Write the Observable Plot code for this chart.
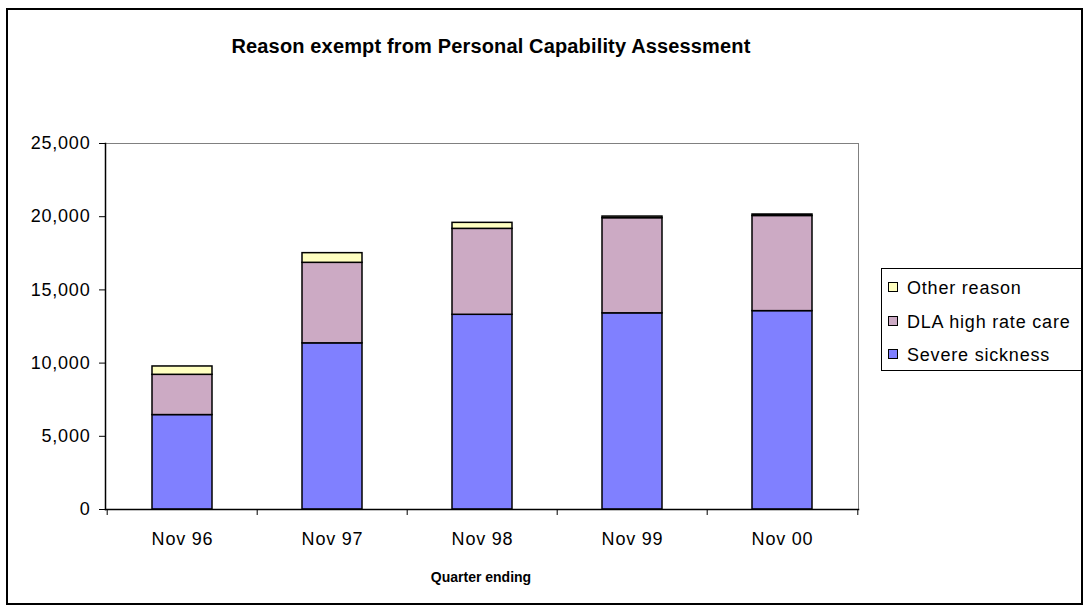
<!DOCTYPE html>
<html><head><meta charset="utf-8">
<script src="https://cdn.jsdelivr.net/npm/d3@7"></script>
<script src="https://cdn.jsdelivr.net/npm/@observablehq/plot@0.6"></script>
<style>
body{margin:0;background:#fff;font-family:"Liberation Sans",Arial,sans-serif;}
#wrap{position:relative;width:1086px;height:607px;overflow:hidden;background:#fff}
#chart{position:absolute;left:0;top:0}
#border{position:absolute;left:6px;top:8px;width:1077px;height:597px;border:2px solid #000;box-sizing:border-box;pointer-events:none}
#title{position:absolute;left:0;width:982px;top:35px;text-align:center;font-weight:bold;font-size:20px;letter-spacing:0.15px;color:#000}
#xtitle{position:absolute;left:381px;width:200px;top:569px;text-align:center;font-weight:bold;font-size:14px;color:#000}
#legend{position:absolute;left:881px;top:268px;width:202px;height:103px;border:1.5px solid #000;box-sizing:border-box;background:#fff}
.item{position:absolute;left:6px;height:22px;line-height:22px;font-size:18px;letter-spacing:0.8px;color:#000;white-space:nowrap}
.sw{display:inline-block;width:8px;height:8px;border:1.5px solid #000;margin-right:9px;vertical-align:middle;position:relative;top:-2px}
</style>
</head><body>
<div id="wrap">
  <div id="chart"></div>
  <div id="title">Reason exempt from Personal Capability Assessment</div>
  <div id="xtitle">Quarter ending</div>
  <div id="legend"></div>
  <div id="border"></div>
</div>
<script>
const categories = ["Nov 96", "Nov 97", "Nov 98", "Nov 99", "Nov 00"];
const seriesNames = ["Severe sickness", "DLA high rate care", "Other reason"];
const severe = [6450, 11350, 13300, 13400, 13550];
const dla = [2750, 5500, 5870, 6500, 6500];
const other = [570, 660, 410, 110, 100];
const colors = ["#8080FF", "#CCAAC4", "#FFFFC0"];
const yTicks = [0, 5000, 10000, 15000, 20000, 25000];

const seriesValues = [severe, dla, other];
const rows = [];
categories.forEach((c, i) => {
  seriesNames.forEach((s, j) => rows.push({cat: c, series: s, value: seriesValues[j][i]}));
});

const W = 1086, H = 607, mL = 105, mR = 228, mT = 143, mB = 98;
const step = (W - mL - mR) / categories.length;

const chart = Plot.plot({
  width: W, height: H,
  marginLeft: mL, marginRight: mR, marginTop: mT, marginBottom: mB,
  style: {fontFamily: "'Liberation Sans', Arial, sans-serif", color: "#000", background: "transparent", letterSpacing: "0.8px"},
  x: {domain: categories, paddingInner: 0.6, paddingOuter: 0.3, label: null},
  y: {domain: [0, 25000], label: null},
  color: {domain: seriesNames, range: colors},
  marks: [
    Plot.frame({stroke: "#808080", strokeWidth: 1}),
    Plot.barY(rows, {x: "cat", y: "value", fill: "series", stroke: "#000", strokeWidth: 1.5, order: seriesNames}),
    Plot.frame({anchor: "left", stroke: "#000", strokeWidth: 1.5}),
    Plot.frame({anchor: "bottom", stroke: "#000", strokeWidth: 1.5}),
    Plot.axisY({ticks: yTicks, tickFormat: d3.format(","), tickSize: 6, tickPadding: 9, fontSize: 18, label: null, stroke: "#000"}),
    Plot.axisX({tickSize: 0, tickPadding: 23, fontSize: 18, label: null}),
    Plot.axisX({text: null, tickSize: 6, dx: -step / 2, label: null, stroke: "#000"}),
    Plot.axisX({ticks: [categories[categories.length - 1]], text: null, tickSize: 6, dx: step / 2, label: null, stroke: "#000"})
  ]
});
document.getElementById("chart").appendChild(chart);

const legend = document.getElementById("legend");
const legendOrder = ["Other reason", "DLA high rate care", "Severe sickness"];
legendOrder.forEach((name, k) => {
  const d = document.createElement("div");
  d.className = "item";
  d.style.top = (8 + k * 33.5) + "px";
  const sw = document.createElement("span");
  sw.className = "sw";
  sw.style.background = colors[seriesNames.indexOf(name)];
  d.appendChild(sw);
  d.appendChild(document.createTextNode(name));
  legend.appendChild(d);
});
</script>
</body></html>
